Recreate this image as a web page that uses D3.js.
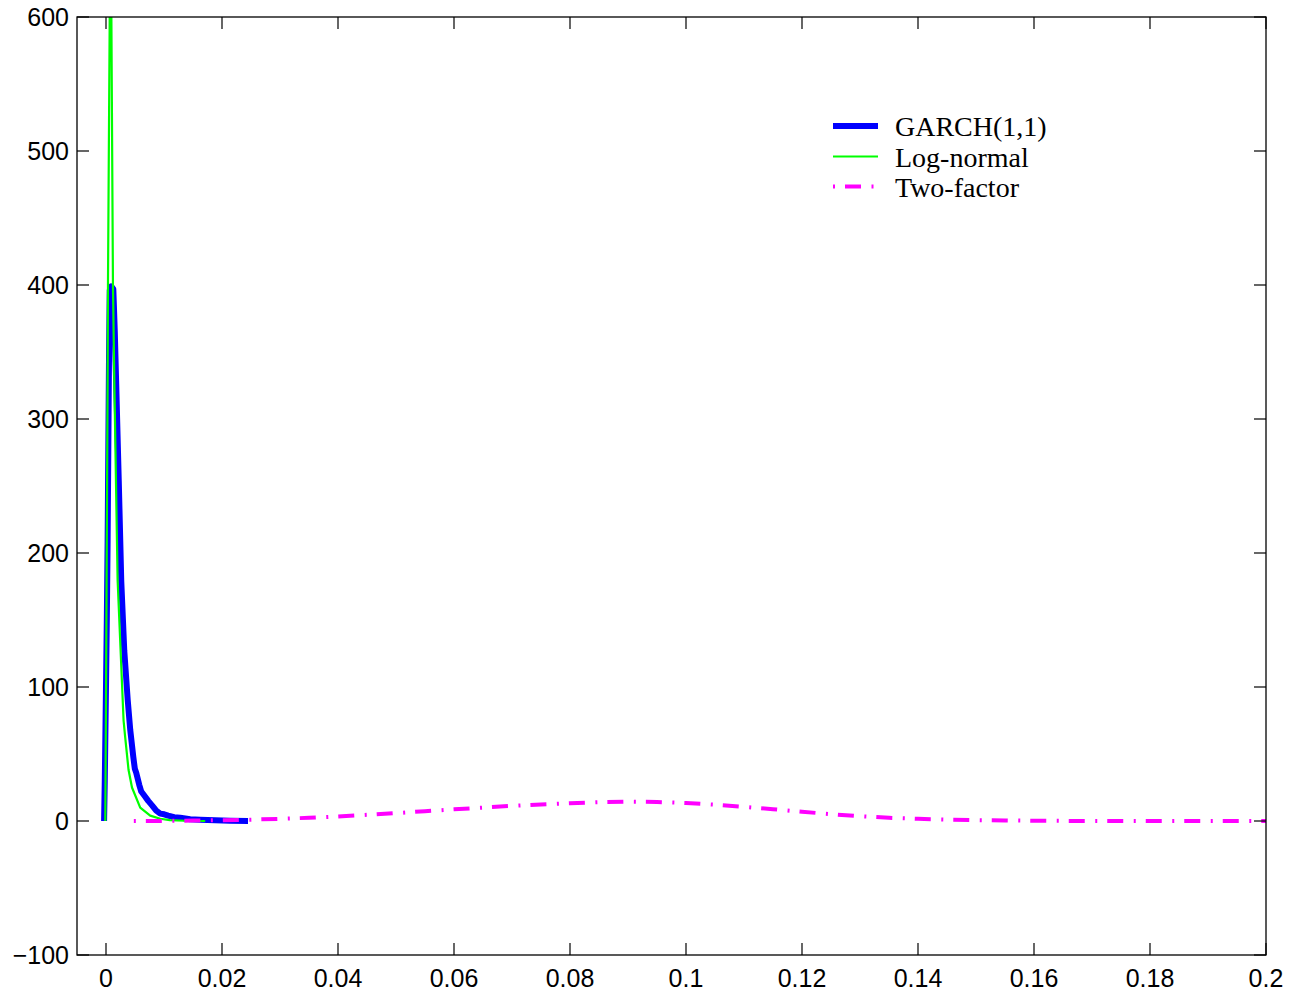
<!DOCTYPE html>
<html>
<head>
<meta charset="utf-8">
<script src="https://cdn.jsdelivr.net/npm/d3@7"></script>
<style>
  html, body { margin: 0; padding: 0; background: #fff; }
  svg { display: block; }
</style>
</head>
<body>
<div id="chart"></div>
<script>
// Axis ticks
const xTicks = [0, 0.02, 0.04, 0.06, 0.08, 0.1, 0.12, 0.14, 0.16, 0.18, 0.2];
const xTickLabels = ["0", "0.02", "0.04", "0.06", "0.08", "0.1", "0.12", "0.14", "0.16", "0.18", "0.2"];
const yTicks = [-100, 0, 100, 200, 300, 400, 500, 600];
const yTickLabels = ["\u2212100", "0", "100", "200", "300", "400", "500", "600"];

// GARCH(1,1) density
const garchX = [-0.00033, -0.00021, -0.00003, 0.00014, 0.00028, 0.0004, 0.00053, 0.00065, 0.00091, 0.00126,
  0.00151, 0.00174, 0.0022, 0.00263, 0.00315, 0.00375, 0.00418, 0.0047, 0.00497, 0.00521,
  0.00573, 0.00608, 0.0066, 0.00728, 0.00797, 0.00866, 0.00935, 0.01003, 0.01072, 0.01176,
  0.01279, 0.01451, 0.01623, 0.01881, 0.02139, 0.02449];
const garchY = [0, 30, 90, 150, 209, 277, 352, 396, 399, 397,
  366, 329, 254, 179, 127, 90, 68, 48, 39, 36,
  27, 22, 19, 15, 11.5, 7.7, 5.5, 5, 4, 2.8,
  2.5, 1.3, 1, 0.6, 0.2, 0];

// Log-normal density
const lognX = [-0.00012, 0, 0.0001, 0.00028, 0.00034, 0.00079, 0.0012, 0.00143, 0.002, 0.00303,
  0.00332, 0.00389, 0.00448, 0.0059, 0.00762, 0.00935, 0.011, 0.0136, 0.0171];
const lognY = [0, 90, 180, 329, 400, 700, 400, 329, 180, 75,
  62, 38, 25, 10, 4, 1.7, 0.6, 0.2, 0];

// Two-factor density
const twoX = [0.0048, 0.01, 0.015, 0.02, 0.025, 0.03, 0.035, 0.04, 0.045, 0.05,
  0.055, 0.06, 0.065, 0.07, 0.075, 0.08, 0.085, 0.09, 0.095, 0.1,
  0.105, 0.11, 0.115, 0.12, 0.125, 0.13, 0.135, 0.14, 0.145, 0.15,
  0.155, 0.16, 0.165, 0.17, 0.18, 0.19, 0.2];
const twoY = [0, 0.1, 0.3, 0.6, 1.0, 1.6, 2.4, 3.4, 4.6, 5.9,
  7.3, 8.7, 10.0, 11.3, 12.4, 13.3, 14.0, 14.4, 14.2, 13.4,
  12.2, 10.6, 8.8, 6.9, 5.1, 3.6, 2.4, 1.6, 1.0, 0.6,
  0.4, 0.2, 0.1, 0.05, 0, 0, 0];

const seriesNames = ["GARCH(1,1)", "Log-normal", "Two-factor"];

// Layout
const WIDTH = 1299, HEIGHT = 997;
const LEFT = 77, RIGHT = 1266, TOP = 17, BOTTOM = 955;
const TICK = 12;
const DASH = "2,10,16,10.5";

const x = d3.scaleLinear().domain([-0.005, 0.2]).range([LEFT, RIGHT]);
const y = d3.scaleLinear().domain([-100, 600]).range([BOTTOM, TOP]);

const svg = d3.select("#chart").append("svg")
  .attr("width", WIDTH)
  .attr("height", HEIGHT);

svg.append("defs").append("clipPath").attr("id", "plotclip")
  .append("rect")
  .attr("x", LEFT).attr("y", TOP)
  .attr("width", RIGHT - LEFT).attr("height", BOTTOM - TOP);

const zip = (xs, ys) => xs.map((v, i) => [v, ys[i]]);
const line = d3.line().x(d => x(d[0])).y(d => y(d[1]));

const plot = svg.append("g").attr("clip-path", "url(#plotclip)");

plot.append("path")
  .attr("d", line(zip(garchX, garchY)))
  .attr("fill", "none")
  .attr("stroke", "#0000ff")
  .attr("stroke-width", 6)
  .attr("stroke-linejoin", "round");

plot.append("path")
  .attr("d", line(zip(lognX, lognY)))
  .attr("fill", "none")
  .attr("stroke", "#00ff00")
  .attr("stroke-width", 2.2)
  .attr("stroke-linejoin", "round");

plot.append("path")
  .attr("d", line(zip(twoX, twoY)))
  .attr("fill", "none")
  .attr("stroke", "#ff00ff")
  .attr("stroke-width", 4)
  .attr("stroke-dasharray", DASH);

// Frame
svg.append("rect")
  .attr("x", LEFT).attr("y", TOP)
  .attr("width", RIGHT - LEFT).attr("height", BOTTOM - TOP)
  .attr("fill", "none")
  .attr("stroke", "#000")
  .attr("stroke-width", 1.3);

// Ticks (inward, all four sides)
const ticks = svg.append("g").attr("stroke", "#000").attr("stroke-width", 1.2);
xTicks.forEach(t => {
  ticks.append("line").attr("x1", x(t)).attr("x2", x(t)).attr("y1", BOTTOM).attr("y2", BOTTOM - TICK);
  ticks.append("line").attr("x1", x(t)).attr("x2", x(t)).attr("y1", TOP).attr("y2", TOP + TICK);
});
yTicks.forEach(t => {
  ticks.append("line").attr("x1", LEFT).attr("x2", LEFT + TICK).attr("y1", y(t)).attr("y2", y(t));
  ticks.append("line").attr("x1", RIGHT).attr("x2", RIGHT - TICK).attr("y1", y(t)).attr("y2", y(t));
});

// Tick labels
const labelFont = "'Liberation Sans', Arial, Helvetica, sans-serif";
svg.append("g").selectAll("text")
  .data(xTicks)
  .enter().append("text")
  .attr("x", d => x(d))
  .attr("y", 987)
  .attr("text-anchor", "middle")
  .attr("font-family", labelFont)
  .attr("font-size", 25)
  .attr("fill", "#000")
  .text((d, i) => xTickLabels[i]);

svg.append("g").selectAll("text")
  .data(yTicks)
  .enter().append("text")
  .attr("x", LEFT - 8)
  .attr("y", d => y(d) + 9)
  .attr("text-anchor", "end")
  .attr("font-family", labelFont)
  .attr("font-size", 25)
  .attr("fill", "#000")
  .text((d, i) => yTickLabels[i]);

// Legend
const legend = svg.append("g");
const legendStyles = [
  { stroke: "#0000ff", width: 6, dash: null },
  { stroke: "#00ff00", width: 2.2, dash: null },
  { stroke: "#ff00ff", width: 4, dash: DASH }
];
const legendY = [126, 156.5, 186.5];
seriesNames.forEach((name, i) => {
  const s = legendStyles[i];
  const l = legend.append("line")
    .attr("x1", 833).attr("x2", 878)
    .attr("y1", legendY[i]).attr("y2", legendY[i])
    .attr("stroke", s.stroke)
    .attr("stroke-width", s.width);
  if (s.dash) l.attr("stroke-dasharray", s.dash);
  legend.append("text")
    .attr("x", 895)
    .attr("y", legendY[i] + 10)
    .attr("font-family", "'Liberation Serif', 'Times New Roman', serif")
    .attr("font-size", 28)
    .attr("fill", "#000")
    .text(name);
});
</script>
</body>
</html>
